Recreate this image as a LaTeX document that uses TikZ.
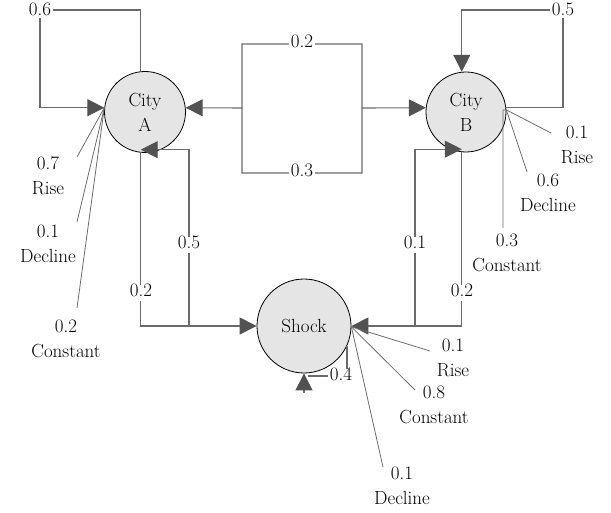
\documentclass[tikz,border=0pt]{standalone}
\usepackage{fontspec}
\usetikzlibrary{arrows.meta}
\begin{document}
\begin{tikzpicture}[x=1pt,y=-1pt,
  every node/.style={font=\fontsize{19}{25}\selectfont},
  ln/.style={draw=black!58,line width=1.1pt},
  arr/.style={ln,-{Triangle[length=17pt,width=17pt,color=black!68]}},
  fan/.style={draw=black!58,line width=0.8pt},
  st/.style={circle,draw=black,line width=0.8pt,fill=black!10,align=center,inner sep=0pt},
  lbl/.style={fill=white,inner xsep=2pt,inner ysep=2.5pt,text height=0.9em,text depth=0.25em},
  lbltop/.style={fill=white,inner xsep=2pt,inner ysep=1pt,text height=0.7em,text depth=0.15em},
  txt/.style={align=center,inner sep=0pt}]
\useasboundingbox (0,0) rectangle (611,513);

% states
\node[st,minimum size=81pt] (A) at (145,112) {City\\A};
\node[st,minimum size=80pt] (B) at (466,112) {City\\B};
\node[st,minimum size=94pt] (S) at (304,326) {Shock};

% named points
\coordinate (c06) at (40,10);
\coordinate (c05) at (563,10);
\coordinate (mL) at (242,108);
\coordinate (mR) at (362,108);
\coordinate (j1) at (189,326);
\coordinate (j2) at (415,326);
\coordinate (s4) at (304,393);
\coordinate (aR) at (77,157);
\coordinate (aD) at (77,222);
\coordinate (aC) at (77,308);
\coordinate (bR) at (551,133);
\coordinate (bD) at (527,172);
\coordinate (bC) at (503,228);
\coordinate (sR) at (430,351);
\coordinate (sC) at (415,390);
\coordinate (sD) at (383,467);

% self loops
\draw[arr] (A.96) |- (c06) |- (A.174);
\draw[arr] (B.6) -| (c05) -| (B.96);
\draw[ln] (S.-25) |- (308,376);
\draw[arr] (s4) -- (S.south);

% A <-> B
\draw[arr] (mR) |- (242,44) -- (mL) -- (A.6);
\draw[arr] (mL) |- (362,173) -- (mR) -- (B.174);

% A <-> Shock
\draw[arr] (A.264) |- (S.west);
\draw[arr] (j1) |- ([yshift=3pt]A.264);

% B <-> Shock
\draw[arr] (j2) |- ([yshift=3pt]B.264);
\draw[arr] (B.264) |- (S.east);

% fans
\draw[fan] (A.174) -- (aR);
\draw[fan] (A.174) -- (aD);
\draw[fan] (A.174) -- (aC);
\draw[fan] (B.3) -- (bR);
\draw[fan] (B.3) -- (bD);
\draw[fan] (B.3) -- (503,110) -- (bC);
\draw[fan] (S.-1) -- (sR);
\draw[fan] (S.-1) -- (sC);
\draw[fan] (S.-1) -- (sD);

% labels on lines
\node[lbltop] (l06) at (40,12.5) {0.6};
\node[lbltop] (l05) at (563,12.5) {0.5};
\node[lbl] (lab2) at (302,44) {0.2};
\node[lbl] (lab3) at (302,173) {0.3};
\node[lbl] (las2) at (141,293) {0.2};
\node[lbl] (lsa5) at (189,245) {0.5};
\node[lbl] (lsb1) at (415,245) {0.1};
\node[lbl] (lbs2) at (462,293) {0.2};
\node[lbl] (ls4) at (341,377) {0.4};

% probability texts
\node[txt] (tAR) at (48,175.5) {0.7\\Rise};
\node[txt] (tAD) at (48,243.5) {0.1\\Decline};
\node[txt] (tAC) at (66,338.5) {0.2\\Constant};
\node[txt] (tBR) at (577,145) {0.1\\Rise};
\node[txt] (tBD) at (548,192.5) {0.6\\Decline};
\node[txt] (tBC) at (507,253) {0.3\\Constant};
\node[txt] (tSR) at (453,357.5) {0.1\\Rise};
\node[txt] (tSC) at (434,404.5) {0.8\\Constant};
\node[txt] (tSD) at (402,485.5) {0.1\\Decline};
\end{tikzpicture}
\end{document}
